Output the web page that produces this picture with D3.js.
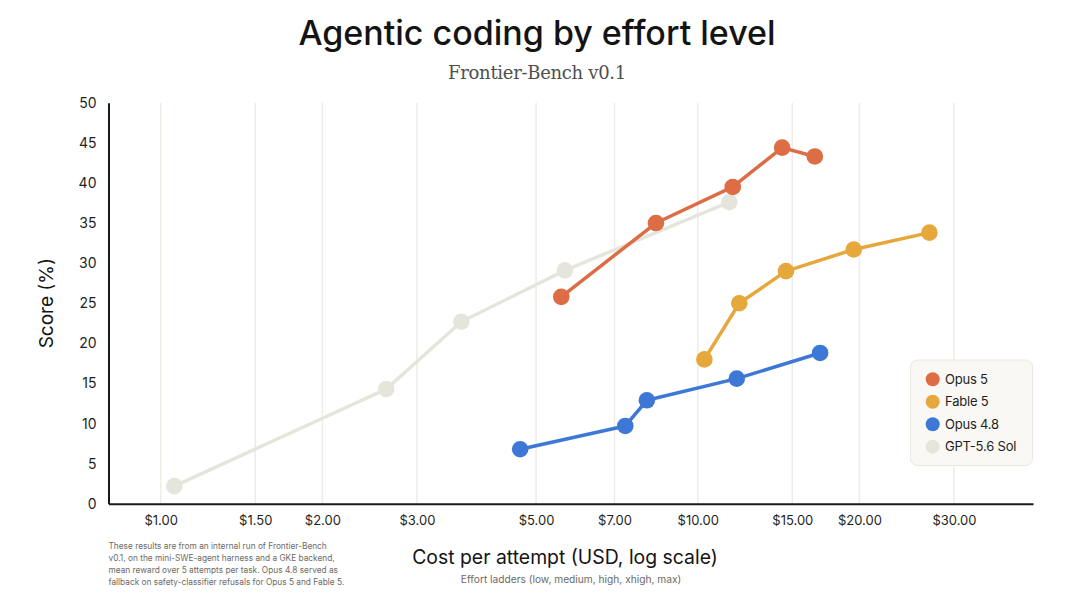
<!DOCTYPE html>
<html><head><meta charset="utf-8">
<script src="https://cdn.jsdelivr.net/npm/d3@7"></script>
<style>
html,body{margin:0;padding:0;background:#fff;}
svg{display:block;}
</style>
</head><body>
<svg id="chart" width="1080" height="597"></svg>
<script>
// ---- data ----
const seriesNames = ["GPT-5.6 Sol", "Opus 4.8", "Fable 5", "Opus 5"];
const legendOrder = ["Opus 5", "Fable 5", "Opus 4.8", "GPT-5.6 Sol"];
const effortLevels = ["low", "medium", "high", "xhigh", "max"];
const gptSolCost   = [1.06, 2.63, 3.63, 5.66, 11.45];
const gptSolScore  = [2.2, 14.3, 22.7, 29.1, 37.6];
const opus48Cost   = [4.67, 7.33, 8.04, 11.82, 16.9];
const opus48Score  = [6.8, 9.7, 12.9, 15.6, 18.8];
const fable5Cost   = [10.29, 11.95, 14.6, 19.52, 27.0];
const fable5Score  = [18.0, 25.0, 29.0, 31.7, 33.8];
const opus5Cost    = [5.57, 8.36, 11.62, 14.36, 16.52];
const opus5Score   = [25.8, 35.0, 39.5, 44.4, 43.3];
const xTickValues  = [1, 1.5, 2, 3, 5, 7, 10, 15, 20, 30];
const yTickValues  = [0, 5, 10, 15, 20, 25, 30, 35, 40, 45, 50];
const footnoteLines = [
  "These results are from an internal run of Frontier-Bench",
  "v0.1, on the mini-SWE-agent harness and a GKE backend,",
  "mean reward over 5 attempts per task. Opus 4.8 served as",
  "fallback on safety-classifier refusals for Opus 5 and Fable 5."
];

const colors = {
  "Opus 5": "#dc6d44",
  "Fable 5": "#e6a73b",
  "Opus 4.8": "#3e78d6",
  "GPT-5.6 Sol": "#e6e5dc"
};
const dataBySeries = {
  "GPT-5.6 Sol": gptSolCost.map((c,i)=>({cost:c, score:gptSolScore[i], level:effortLevels[i]})),
  "Opus 4.8": opus48Cost.map((c,i)=>({cost:c, score:opus48Score[i], level:effortLevels[i]})),
  "Fable 5": fable5Cost.map((c,i)=>({cost:c, score:fable5Score[i], level:effortLevels[i]})),
  "Opus 5": opus5Cost.map((c,i)=>({cost:c, score:opus5Score[i], level:effortLevels[i]}))
};

(function(){
// ---- layout ----
const svg = d3.select("#chart");
const pLeft = 108.5, pRight = 1033, pTop = 102.7, pBottom = 503.8;
const x = d3.scaleLog().domain([0.7995, 42.1]).range([pLeft, pRight]);
const y = d3.scaleLinear().domain([0, 50]).range([pBottom, pTop]);

const sans = "Inter, 'Open Sans', sans-serif";

// title
svg.append("text").attr("x", 537).attr("y", 45).attr("text-anchor","middle")
  .attr("font-family", sans).attr("font-size", 34).attr("font-weight", 500)
  .attr("letter-spacing", 0).attr("fill", "#141413")
  .text("Agentic coding by effort level");
svg.append("text").attr("x", 537).attr("y", 79).attr("text-anchor","middle")
  .attr("font-family", "'DejaVu Serif', 'Liberation Serif', serif").attr("font-size", 18)
  .attr("letter-spacing", -0.3)
  .attr("fill", "#4f4f4c")
  .text("Frontier-Bench v0.1");

// gridlines
svg.append("g").selectAll("line").data(xTickValues).join("line")
  .attr("x1", d=>x(d)).attr("x2", d=>x(d))
  .attr("y1", pTop).attr("y2", pBottom)
  .attr("stroke", "#edece5").attr("stroke-width", 1.5);

// x axis
const xAxis = d3.axisBottom(x).tickValues(xTickValues)
  .tickFormat(d => "$" + d3.format(".2f")(d)).tickSize(0).tickPadding(12);
const gx = svg.append("g").attr("transform", `translate(0,${pBottom})`).call(xAxis);
gx.select(".domain").attr("stroke", "#1a1a1a").attr("stroke-width", 2);
gx.selectAll("text").attr("font-family", sans).attr("font-size", 13).attr("fill", "#1f1f1e");

// y axis
const yAxis = d3.axisLeft(y).tickValues(yTickValues).tickSize(0).tickPadding(12);
const gy = svg.append("g").attr("transform", `translate(${pLeft},0)`).call(yAxis);
gy.select(".domain").attr("stroke", "#1a1a1a").attr("stroke-width", 2);
gy.selectAll("text").attr("font-family", sans).attr("font-size", 14).attr("fill", "#1f1f1e");

// axis titles
svg.append("text").attr("transform", `translate(53,${(pTop+pBottom)/2}) rotate(-90)`)
  .attr("text-anchor","middle").attr("font-family", sans).attr("font-size", 19)
  .attr("fill", "#141413").text("Score (%)");
svg.append("text").attr("x", 565).attr("y", 564).attr("text-anchor","middle")
  .attr("font-family", sans).attr("font-size", 19.4).attr("fill", "#141413")
  .text("Cost per attempt (USD, log scale)");
svg.append("text").attr("x", 571).attr("y", 583).attr("text-anchor","middle")
  .attr("font-family", sans).attr("font-size", 10.2).attr("fill", "#6b6a66")
  .text("Effort ladders (" + effortLevels.join(", ") + ")");

// footnote
svg.append("g").selectAll("text").data(footnoteLines).join("text")
  .attr("x", pLeft).attr("y", (d,i)=>549 + i*11.9)
  .attr("font-family", sans).attr("font-size", 8.3).attr("fill", "#6b6a66")
  .text(d=>d);

// series
const line = d3.line().x(d=>x(d.cost)).y(d=>y(d.score));
seriesNames.forEach(name => {
  const g = svg.append("g");
  g.append("path").datum(dataBySeries[name]).attr("d", line)
    .attr("fill","none").attr("stroke", colors[name]).attr("stroke-width", 3.5)
    .attr("stroke-linejoin","round");
  g.selectAll("circle").data(dataBySeries[name]).join("circle")
    .attr("cx", d=>x(d.cost)).attr("cy", d=>y(d.score)).attr("r", 8.3)
    .attr("fill", colors[name]);
});

// legend
const lg = svg.append("g");
lg.append("rect").attr("x", 910.5).attr("y", 360).attr("width", 122).attr("height", 105.5)
  .attr("rx", 7).attr("fill", "#f9f8f4").attr("stroke", "#e9e7e0").attr("stroke-width", 1);
legendOrder.forEach((name, i) => {
  const cy = 379.3 + i * 22.45;
  lg.append("circle").attr("cx", 932.7).attr("cy", cy).attr("r", 7).attr("fill", colors[name]);
  lg.append("text").attr("x", 945).attr("y", cy).attr("dy", "0.35em")
    .attr("font-family", sans).attr("font-size", 13).attr("letter-spacing", -0.2)
    .attr("fill", "#1f1f1e").text(name);
});
})();
</script>
</body></html>
